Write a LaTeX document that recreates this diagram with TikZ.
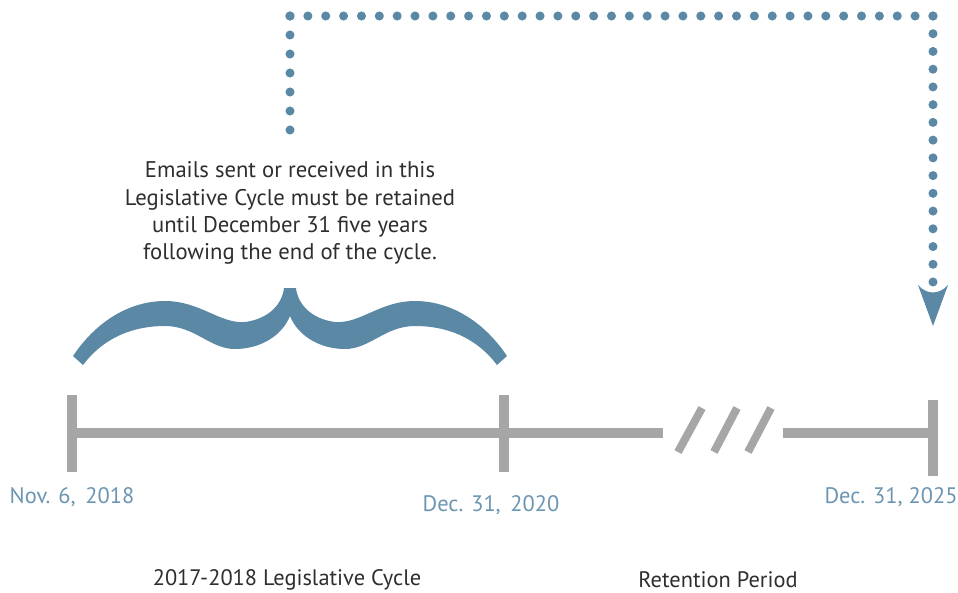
\documentclass[tikz,border=0pt]{standalone}
\usepackage{fontspec}
\setmainfont{PT Sans}
\definecolor{bluegray}{HTML}{5A88A5}
\definecolor{datecol}{HTML}{6B95B0}
\definecolor{linegray}{HTML}{A6A6A6}
\definecolor{textgray}{HTML}{2E2E2E}
\begin{document}
\begin{tikzpicture}[x=0.75pt,y=-0.75pt,
  axis/.style={draw=linegray,line width=7.5pt},
  tick/.style={draw=linegray,line width=6.8pt},
  slash/.style={draw=linegray,line width=6pt},
  dotline/.style={draw=bluegray,line width=6.8pt,line cap=round},
  datelbl/.style={text=datecol,font=\fontsize{16.8}{20}\selectfont,inner sep=0pt},
  cyclbl/.style={text=textgray,font=\fontsize{16.8}{20}\selectfont,inner sep=0pt},
  note/.style={text=textgray,font=\fontsize{17}{20.4}\selectfont,align=center,inner sep=0pt}]
\useasboundingbox (0,0) rectangle (958,593);
% timeline
\coordinate (t0) at (72,433);
\coordinate (t1) at (504,433);
\coordinate (gl) at (663,433);
\coordinate (gr) at (783,433);
\coordinate (t2) at (933,433);
\draw[axis] (t0) -- (t1) -- (gl);
\draw[axis] (gr) -- (t2);
\draw[tick] (72,395) -- (72,472);
\draw[tick] (504,395) -- (504,472);
\draw[tick] (933,400) -- (933,476);
\draw[slash] (702,408) -- (678,452);
\draw[slash] (737,408) -- (714,452);
\draw[slash] (771,408) -- (748,452);
% brace
\fill[bluegray] (73,356)
  .. controls (100,316) and (135,301) .. (165,301)
  .. controls (200,301) and (220,324) .. (245,322)
  .. controls (268,319) and (282,305) .. (284,288)
  -- (296,288)
  .. controls (298,305) and (312,319) .. (335,322)
  .. controls (360,324) and (380,301) .. (415,301)
  .. controls (445,301) and (480,316) .. (507,356)
  -- (497,365)
  .. controls (475,336) and (445,326) .. (415,326)
  .. controls (385,326) and (370,349) .. (345,349)
  .. controls (320,349) and (298,336) .. (290,316)
  .. controls (282,336) and (260,349) .. (235,349)
  .. controls (210,349) and (195,326) .. (165,326)
  .. controls (135,326) and (105,336) .. (83,365)
  -- cycle;
% dotted connector
\coordinate (d0) at (290,130);
\coordinate (d1) at (290,16);
\coordinate (d2) at (933,16);
\coordinate (d3) at (933,282);
\coordinate (tip) at (933,326);
\draw[dotline,dash pattern=on 0pt off 14.25pt] (d0) -- ([yshift=0.3]d1);
\draw[dotline,dash pattern=on 0pt off 13.395pt] (d1) -- ([xshift=0.3]d2);
\draw[dotline,dash pattern=on 0pt off 13.3pt] (d2) -- ([yshift=-0.3]d3);
\fill[bluegray] (918,285) .. controls (927,295) and (939,295) .. (948,285) -- (tip) -- cycle;
% texts
\node[note] (note) at (290,213) {Emails sent or received in this\\Legislative Cycle must be retained\\until December 31 five years\\following the end of the cycle.};
\node[datelbl] (l0) at (72,497) {Nov. 6,\, 2018};
\node[datelbl] (l1) at (491,505) {Dec. 31,\, 2020};
\node[datelbl] (l2) at (891,497) {Dec. 31, 2025};
\node[cyclbl] (c1) at (287,580) {2017-2018 Legislative Cycle};
\node[cyclbl] (c2) at (718,580) {Retention Period};
\end{tikzpicture}
\end{document}
